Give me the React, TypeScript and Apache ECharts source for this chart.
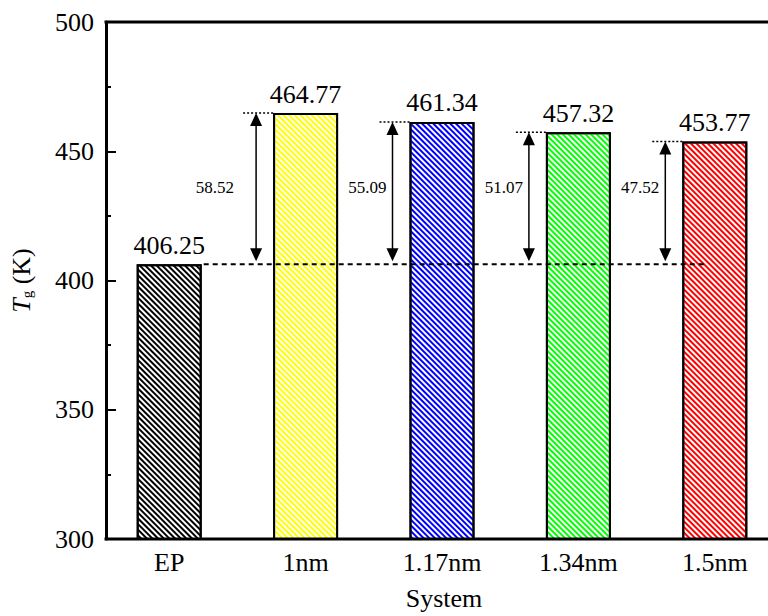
import React, { useEffect, useRef } from "react";
import * as echarts from "echarts";

const categories = ["EP", "1nm", "1.17nm", "1.34nm", "1.5nm"];
const tgValues = [406.25, 464.77, 461.34, 457.32, 453.77];
const stripeColors = ["#000000", "#ffff00", "#0000ff", "#00ff00", "#ff0000"];
const diffLabels = ["58.52", "55.09", "51.07", "47.52"];
const baseValue = 406.25;
const yTicks = { min: 300, max: 500, interval: 50 };

const FONT = "Liberation Serif, serif";
const BAR_W = 65;
const AXIS_SHIFT = 5;

export default function App() {
  const ref = useRef<HTMLDivElement>(null);
  useEffect(() => {
    const chart = echarts.init(ref.current!, null, { renderer: "svg" });
    const labelGaps = [22, 6, 6, 6];
    const annData = diffLabels.map((d, k) => [k + 1, tgValues[k + 1], k]);
    chart.setOption({
      animation: false,
      backgroundColor: "#fff",
      grid: { left: 99, top: 22, bottom: 74, right: 7, show: false },
      xAxis: {
        type: "category",
        data: categories,
        name: "System",
        nameLocation: "middle",
        nameGap: 46,
        nameTextStyle: { fontFamily: FONT, fontSize: 26, color: "#000", padding: [0, 0, 0, 4] },
        axisLine: { show: false },
        axisTick: { show: false },
        axisLabel: { fontFamily: FONT, fontSize: 26, color: "#000", margin: 10 },
      },
      yAxis: {
        type: "value",
        min: yTicks.min,
        max: yTicks.max,
        interval: yTicks.interval,
        offset: -AXIS_SHIFT,
        name: "{i|T}{s|g}{n| (K)}",
        nameLocation: "middle",
        nameGap: 72,
        nameRotate: 90,
        nameTextStyle: {
          color: "#000",
          rich: {
            i: { fontFamily: FONT, fontSize: 26, fontStyle: "italic", color: "#000" },
            s: { fontFamily: FONT, fontSize: 15, color: "#000", verticalAlign: "bottom", padding: [10, 0, 0, 0] },
            n: { fontFamily: FONT, fontSize: 26, color: "#000" },
          },
        },
        axisLine: { show: true, lineStyle: { color: "#000", width: 3 } },
        axisTick: { show: true, inside: true, length: 10, lineStyle: { color: "#000", width: 2 } },
        minorTick: { show: true, splitNumber: 2, length: 5, lineStyle: { color: "#000", width: 2 } },
        splitLine: { show: false },
        axisLabel: { fontFamily: FONT, fontSize: 26, color: "#000", margin: 12 },
      },
      series: [
        {
          type: "custom",
          data: [[0]],
          z: 10,
          silent: true,
          renderItem: (params: any, api: any) => {
            const cs = params.coordSys;
            const x0 = cs.x + AXIS_SHIFT - 1.5;
            const x1 = cs.x + cs.width + 20;
            return {
              type: "group",
              children: [
                {
                  type: "line",
                  shape: { x1: x0, y1: cs.y, x2: x1, y2: cs.y },
                  style: { stroke: "#000", lineWidth: 3 },
                },
                {
                  type: "line",
                  shape: { x1: x0, y1: cs.y + cs.height, x2: x1, y2: cs.y + cs.height },
                  style: { stroke: "#000", lineWidth: 3 },
                },
              ],
            };
          },
        },
        {
          type: "bar",
          barWidth: BAR_W,
          data: tgValues.map((v, i) => ({
            value: v,
            itemStyle: {
              color: "#fff",
              borderColor: "#000",
              borderWidth: 2,
              decal: {
                symbol: "rect",
                symbolSize: 1,
                color: stripeColors[i],
                dashArrayX: [1, 0],
                dashArrayY: [1.7, 1.6],
                rotation: Math.PI / 4,
              },
            },
          })),
          label: {
            show: true,
            position: "top",
            distance: 6,
            fontFamily: FONT,
            fontSize: 26,
            color: "#000",
            formatter: (p: any) => p.value.toFixed(2),
          },
        },
        {
          type: "custom",
          data: [[0, baseValue, 4]],
          z: 5,
          renderItem: (params: any, api: any) => {
            const p0 = api.coord([api.value(0), api.value(1)]);
            const p1 = api.coord([api.value(2), api.value(1)]);
            return {
              type: "line",
              shape: { x1: p0[0] + BAR_W / 2 + 2, y1: p0[1], x2: p1[0] - 8, y2: p1[1] },
              style: { stroke: "#000", lineWidth: 2, lineDash: [5, 4] },
            };
          },
        },
        {
          type: "custom",
          data: annData,
          z: 5,
          renderItem: (params: any, api: any) => {
            const i = api.value(0);
            const v = api.value(1);
            const k = api.value(2);
            const top = api.coord([i, v]);
            const yBase = api.coord([i, baseValue])[1];
            const yLab = api.coord([i, 436])[1];
            const left = top[0] - BAR_W / 2;
            const ax = left - 17;
            const yTop = top[1];
            const yBot = yBase - 3;
            const hl = 13;
            const hw = 6;
            return {
              type: "group",
              children: [
                {
                  type: "line",
                  shape: { x1: ax - 13, y1: yTop, x2: left, y2: yTop },
                  style: { stroke: "#000", lineWidth: 1.5, lineDash: [2, 2] },
                },
                {
                  type: "line",
                  shape: { x1: ax, y1: yTop + hl - 2, x2: ax, y2: yBot - hl + 2 },
                  style: { stroke: "#000", lineWidth: 1.5 },
                },
                {
                  type: "polygon",
                  shape: { points: [[ax, yTop], [ax - hw, yTop + hl], [ax + hw, yTop + hl]] },
                  style: { fill: "#000" },
                },
                {
                  type: "polygon",
                  shape: { points: [[ax, yBot], [ax - hw, yBot - hl], [ax + hw, yBot - hl]] },
                  style: { fill: "#000" },
                },
                {
                  type: "text",
                  style: {
                    text: diffLabels[k],
                    x: ax - labelGaps[k],
                    y: yLab,
                    align: "right",
                    verticalAlign: "middle",
                    fontFamily: FONT,
                    fontSize: 17,
                    fill: "#000",
                  },
                },
              ],
            };
          },
        },
      ],
    });
    return () => chart.dispose();
  }, []);
  return (
    <div style={{ position: "absolute", left: 0, top: 0, width: 768, height: 616, overflow: "hidden" }}>
      <div ref={ref} style={{ width: 790, height: 616 }} />
    </div>
  );
}
